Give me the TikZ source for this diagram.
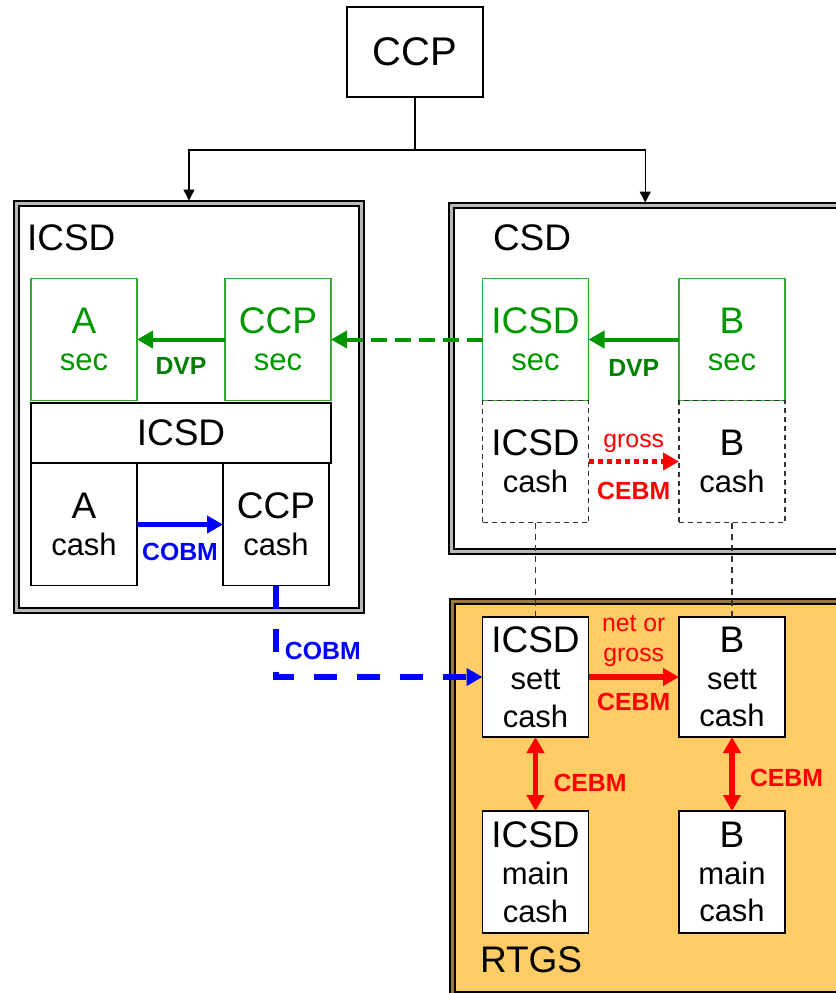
\documentclass[tikz,border=0pt]{standalone}
\usepackage{fontspec}
\setmainfont{Liberation Sans}
\usepackage{xcolor}
\definecolor{secgreen}{RGB}{0,150,0}
\definecolor{boxgreen}{RGB}{50,170,50}
\definecolor{dvpgreen}{RGB}{0,128,0}
\definecolor{cobmblue}{RGB}{0,0,255}
\definecolor{cebmred}{RGB}{255,0,0}
\definecolor{rtgsfill}{RGB}{255,204,102}
\usepackage{tikz}
\usetikzlibrary{arrows.meta, positioning, calc}

\newcommand{\bigtxt}[1]{{\fontsize{18.5}{18.7}\selectfont #1}}

\begin{document}
\begin{tikzpicture}[
        x=0.5pt, y=-0.5pt,
        every node/.style={inner sep=0pt, outer sep=0pt},
        frame/.style={rectangle, draw=black, line width=1.1pt, double=#1, double distance=1.2pt},
        frame/.default=gray!55,
        acct/.style={rectangle, draw=#1, line width=0.6pt, fill=white, minimum width=53pt, minimum height=61pt, align=center, font=\fontsize{15.5}{18.7}\selectfont},
        acct/.default=black,
        secacct/.style={acct=boxgreen, text=secgreen},
        pendacct/.style={acct=black!80, dash pattern=on 2.5pt off 2pt},
        framelbl/.style={font=\fontsize{18.5}{20}\selectfont},
        flowlbl/.style={text=#1, font=\fontsize{12.4}{15}\selectfont\bfseries},
        flowtxt/.style={text=#1, align=center, font=\fontsize{12.4}{15}\selectfont},
        flow/.style={-{Triangle[length=8pt, width=8.5pt]}, line width=2.8pt, color=#1},
        flowboth/.style={flow=#1, <->, >={Triangle[length=8pt, width=8.5pt]}},
        link/.style={line width=0.6pt, draw=black!80, dash pattern=on 3pt off 2.5pt},
        tree/.style={line width=0.7pt},
        treetip/.style={tree, -{Triangle[length=5.5pt, width=5.5pt]}, shorten >=1.5pt}
    ]
        \useasboundingbox (0,0) rectangle (836,993);
        \clip (0,0) rectangle (836,993);

        \node[frame, minimum width=172.5pt, minimum height=203.5pt] (icsdbox) at (189,407) {};
        \node[frame, minimum width=193.75pt, minimum height=173pt] (csdbox) at (645.25,378.5) {};
        \node[frame=rtgsfill!60!black, fill=rtgsfill, minimum width=193.25pt, minimum height=196.25pt] (rtgsbox) at (645.75,797.75) {};

        \node[acct, minimum width=68pt, minimum height=45pt, font=\fontsize{20}{22}\selectfont] (ccp) at (415,52) {CCP};

        \node[framelbl, anchor=base west] (icsdlbl) at (27,250) {ICSD};
        \node[framelbl, anchor=base west] (csdlbl) at (493,250) {CSD};
        \node[framelbl, anchor=base west] (rtgslbl) at (480,972) {RTGS};

        \node[secacct] (asec) at (84,339.5) {\bigtxt{A}\\sec};
        \node[secacct] (ccpsec) at (278,339.5) {\bigtxt{CCP}\\sec};
        \node[acct, minimum width=150pt, minimum height=30pt] (icsdbar) at (181,433) {\bigtxt{ICSD}};
        \node[acct] (acash) at (84,524.5) {\bigtxt{A}\\cash};
        \node[acct] (ccpcash) at (276,524.5) {\bigtxt{CCP}\\cash};

        \node[secacct] (icsdsec) at (535.5,339.5) {\bigtxt{ICSD}\\sec};
        \node[secacct] (bsec) at (732,339.5) {\bigtxt{B}\\sec};
        \node[pendacct] (icsdcash) at (535.5,461.5) {\bigtxt{ICSD}\\cash};
        \node[pendacct] (bcash) at (732,461.5) {\bigtxt{B}\\cash};

        \node[acct, minimum height=60pt] (icsdsett) at (535.5,677) {\bigtxt{ICSD}\\sett\\cash};
        \node[acct, minimum height=60pt] (bsett) at (732,677) {\bigtxt{B}\\sett\\cash};
        \node[acct] (icsdmain) at (535.5,872) {\bigtxt{ICSD}\\main\\cash};
        \node[acct] (bmain) at (732,872) {\bigtxt{B}\\main\\cash};

        \draw[tree] (ccp.south) -- ++(0,53) coordinate (fork);
        \draw[treetip] (fork) -| (icsdbox.north);
        \draw[treetip] (fork) -| (csdbox.north);

        \draw[flow=secgreen, line width=2pt] (ccpsec) -- (asec)
            node[flowlbl=dvpgreen, midway, anchor=north, yshift=-9pt] (dvpa) {DVP};
        \draw[flow=secgreen, line width=2pt] (bsec) -- (icsdsec)
            node[flowlbl=dvpgreen, midway, anchor=north, yshift=-10pt] (dvpb) {DVP};
        \draw[flow=secgreen, line width=2pt, dash pattern=on 8pt off 4pt] (icsdsec) -- (ccpsec);

        \draw[flow=cobmblue] (acash) -- (ccpcash)
            node[flowlbl=cobmblue, midway, anchor=north, yshift=-9.25pt] (cobma) {COBM};
        \draw[flow=cobmblue, dash pattern=on 11.5pt off 10pt] (ccpcash) |- (icsdsett)
            node[flowlbl=cobmblue, pos=0.355, anchor=west, xshift=4.5pt] (cobmb) {COBM};

        \draw[flow=cebmred, dash pattern=on 2.5pt off 2pt] (icsdcash) -- (bcash)
            node[flowtxt=cebmred, midway, anchor=south, yshift=4.25pt] (grossa) {gross}
            node[flowlbl=cebmred, midway, anchor=north, yshift=-10.25pt] (cebma) {CEBM};

        \draw[link] (icsdcash) -- (icsdsett);
        \draw[link] (bcash) -- (bsett);

        \draw[flow=cebmred] (icsdsett) -- (bsett)
            node[flowtxt=cebmred, midway, anchor=south, yshift=5pt] (netgross) {net or\\gross}
            node[flowlbl=cebmred, midway, anchor=north, yshift=-8pt] (cebmb) {CEBM};
        \draw[flowboth=cebmred] (icsdsett) -- (icsdmain)
            node[flowlbl=cebmred, midway, anchor=west, xshift=9pt, yshift=-4.25pt] (cebmc) {CEBM};
        \draw[flowboth=cebmred] (bsett) -- (bmain)
            node[flowlbl=cebmred, midway, anchor=west, xshift=9pt, yshift=-2pt] (cebmd) {CEBM};
    \end{tikzpicture}
\end{document}
